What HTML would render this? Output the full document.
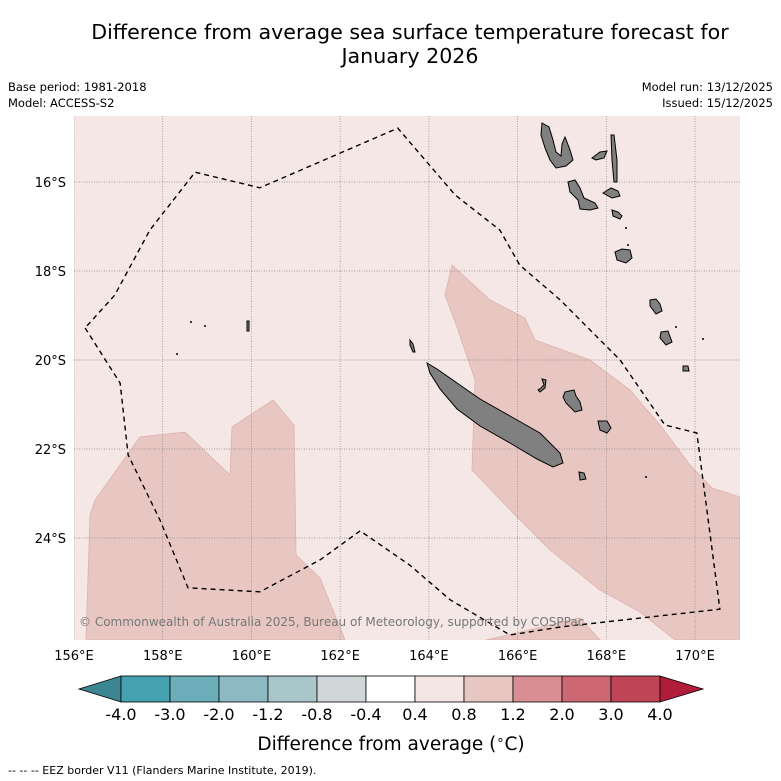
<!DOCTYPE html>
<html><head><meta charset="utf-8"><style>
body{margin:0;background:#fff;width:781px;height:781px;overflow:hidden;font-family:"DejaVu Sans","Liberation Sans",sans-serif;}
svg{display:block}
</style></head><body>
<svg width="781" height="781" viewBox="0 0 781 781" xmlns="http://www.w3.org/2000/svg" font-family="DejaVu Sans, Liberation Sans, sans-serif">
<text x="410" y="39" font-size="20.6" text-anchor="middle">Difference from average sea surface temperature forecast for</text>
<text x="410" y="63" font-size="20.6" text-anchor="middle">January 2026</text>
<text x="8" y="91" font-size="11.5">Base period: 1981-2018</text>
<text x="8" y="107" font-size="11.5">Model: ACCESS-S2</text>
<text x="773" y="91" font-size="11.5" text-anchor="end">Model run: 13/12/2025</text>
<text x="773" y="107" font-size="11.5" text-anchor="end">Issued: 15/12/2025</text>
<defs><clipPath id="mapclip"><rect x="74" y="116" width="666" height="524"/></clipPath></defs>
<rect x="74" y="116" width="666" height="524" fill="#f4e7e5"/>
<g id="map" clip-path="url(#mapclip)"></g>
<g id="axes"></g>
<g id="cbar"></g>
<text x="391" y="750" font-size="18.5" text-anchor="middle">Difference from average (<tspan font-size="13" dy="-6">∘</tspan><tspan dy="6">C)</tspan></text>
<text x="8" y="774" font-size="11">--  --  -- EEZ border V11 (Flanders Marine Institute, 2019).</text>
</svg>
<script>
const lonTicks=[156,158,160,162,164,166,168,170];
const latTicks=[16,18,20,22,24];
const cbBounds=[-4.0,-3.0,-2.0,-1.2,-0.8,-0.4,0.4,0.8,1.2,2.0,3.0,4.0];
const cbColors=["#46a2b1","#6badb9","#8db9c3","#a9c7cb","#d1d7d9","#ffffff","#f4e6e5","#e8c7c2","#d98e94","#cd6772","#bf4456"];
const eezLon=[156.25,157.04,157.22,157.94,158.57,160.19,161.55,162.45,163.57,164.48,165.83,166.96,168.76,170.56,170.04,169.32,168.31,166.96,166.05,165.6,164.59,163.3,160.19,158.73,157.71,156.92,156.25];
const eezLat=[-19.28,-20.52,-22.13,-23.6,-25.12,-25.21,-24.49,-23.84,-24.61,-25.39,-26.18,-26.0,-25.8,-25.6,-21.64,-21.46,-20.0,-18.65,-17.87,-17.08,-16.29,-14.79,-16.13,-15.78,-17.08,-18.54,-19.28];
const NS="http://www.w3.org/2000/svg";
const X=lon=>74+(lon-156)*44.36;
const Y=lat=>182+(-lat-16)*44.5;
function mk(tag,attrs,parent){const e=document.createElementNS(NS,tag);for(const k in attrs)e.setAttribute(k,attrs[k]);parent.appendChild(e);return e;}
const map=document.getElementById('map'),axes=document.getElementById('axes'),cb=document.getElementById('cbar');
const regions=[
"86,640 90,515 95,500 140,437 185,432 230,475 232,427 273,400 294,425 296,555 320,578 345,640",
"452,265 490,300 525,318 535,340 590,360 630,390 660,425 690,465 712,488 740,497 740,640 675,640 640,612 600,590 550,550 515,515 472,470 475,380 458,330 445,295",
"486,640 580,618 600,640"];
regions.forEach((p,i)=>{const e=mk('polygon',{points:p,fill:'#e8c7c2',stroke:'#dbb3ae','stroke-width':0.8},map);

});
lonTicks.forEach(l=>{const e=mk('line',{x1:X(l),x2:X(l),y1:116,y2:640,stroke:'#888','stroke-width':0.7,'stroke-dasharray':'1,1.5'},map);

});
latTicks.forEach(l=>{const e=mk('line',{x1:74,x2:740,y1:Y(-l),y2:Y(-l),stroke:'#888','stroke-width':0.7,'stroke-dasharray':'1,1.5'},map);

});
const islands=[
"542,123 549,127 553,140 556,152 561,156 562,144 565,137 567,142 570,150 573,160 566,166 556,168 550,160 545,148 541,135",
"568,182 575,180 580,188 584,198 595,203 598,208 590,210 580,209 578,200 570,192",
"592,158 600,152 607,151 604,158 596,160",
"611,135 614,135 617,160 617,182 614,182 612,160",
"603,193 611,188 618,191 620,196 612,198",
"612,210 618,212 622,216 620,219 613,216",
"615,252 622,249 630,250 632,258 626,263 617,260",
"650,300 656,299 660,304 662,311 656,314 650,306",
"661,332 668,331 672,342 666,345 660,338",
"427,363 437,369 457,383 480,399 510,416 540,433 560,453 563,463 553,467 537,459 510,443 480,426 457,409 440,389 430,373",
"565,392 574,390 576,396 580,402 582,410 575,412 566,403 563,397",
"598,421 607,421 611,428 607,433 600,430",
"538,390 541,388 544,385 542,379 546,380 545,388 540,392",
"579,472 584,473 586,479 580,480",
"683,366 688,366 689,371 683,371",
"247,321 249,321 249,331 247,331",
"410,340 413,344 415,352 413,352 410,345"];
islands.forEach((p,i)=>{const e=mk('polygon',{points:p,fill:'#808080',stroke:'#000','stroke-width':1},map);

});
[[191,322],[205,326],[177,354],[646,477],[703,339],[676,327],[626,228],[628,245]].forEach(d=>{const e=mk('circle',{cx:d[0],cy:d[1],r:1,fill:'#000'},map);

});
const eez=mk('polyline',{points:eezLon.map((l,i)=>X(l)+','+Y(eezLat[i])).join(' '),fill:'none',stroke:'#000','stroke-width':1.4,'stroke-dasharray':'5,4'},map);


const cr=mk('text',{x:79,y:626,'font-size':12,fill:'#777'},map);cr.textContent='© Commonwealth of Australia 2025, Bureau of Meteorology, supported by COSPPac';


lonTicks.forEach(l=>{const t=mk('text',{x:X(l),y:660,'font-size':13,'text-anchor':'middle'},axes);t.textContent=l+'°E';

});
latTicks.forEach(l=>{const t=mk('text',{x:66,y:Y(-l)+5,'font-size':13,'text-anchor':'end'},axes);t.textContent=l+'°S';

});
const cx0=121,cw=49,cy=676,ch=26;
const left=mk('polygon',{points:`79,${cy+ch/2} ${cx0},${cy} ${cx0},${cy+ch}`,fill:'#3b8691',stroke:'#000','stroke-width':0.8},cb);


cbColors.forEach((c,i)=>{const r=mk('rect',{x:cx0+i*cw,y:cy,width:cw,height:ch,fill:c,stroke:'#000','stroke-width':0.8},cb);

});
const xe=cx0+cbColors.length*cw;
const right=mk('polygon',{points:`${xe},${cy} ${xe+43},${cy+ch/2} ${xe},${cy+ch}`,fill:'#b01d3b',stroke:'#000','stroke-width':0.8},cb);


cbBounds.forEach((b,i)=>{const t=mk('text',{x:cx0+i*cw,y:720,'font-size':16,'text-anchor':'middle'},cb);t.textContent=b.toFixed(1);

});
</script>
</body></html>
